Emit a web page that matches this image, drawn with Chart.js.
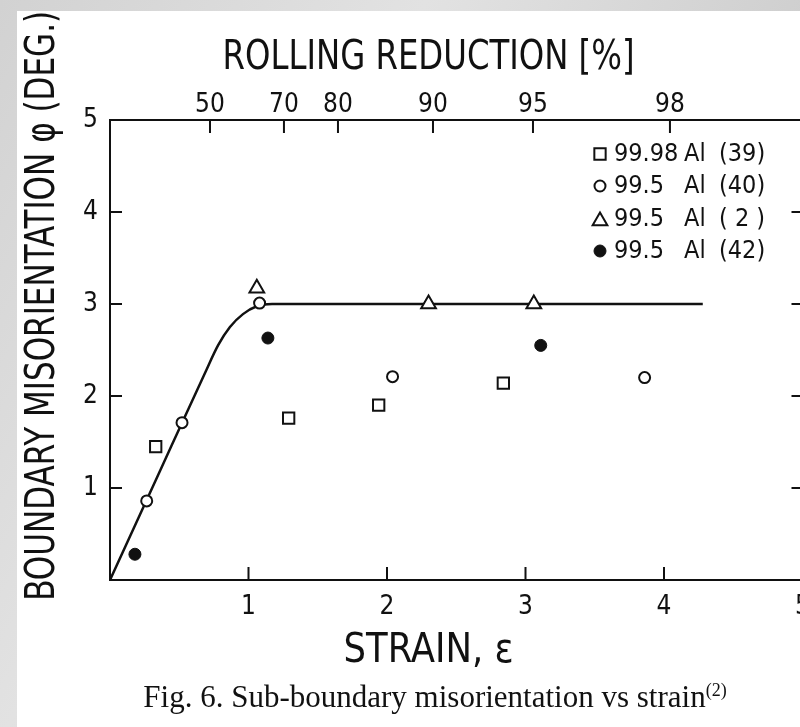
<!DOCTYPE html>
<html>
<head>
<meta charset="utf-8">
<script src="https://cdn.jsdelivr.net/npm/chart.js@4.4.0/dist/chart.umd.min.js"></script>
<style>
  html, body { margin: 0; padding: 0; width: 800px; height: 727px; overflow: hidden; }
  body { position: relative; background: linear-gradient(120deg, #d2d2d2 0%, #e2e2e2 35%, #cdcdcd 70%, #d8d8d8 100%); }
  #panel { position: absolute; left: 17px; top: 11px; right: 0; bottom: 0; background: #fff; }
  #wrap { position: absolute; left: 0; top: 0; width: 830px; height: 680px; }
  #caption { position: absolute; left: 0; top: 679px; width: 870px; text-align: center;
             font-family: 'Liberation Serif', 'Times New Roman', serif; font-size: 31px; color: #111; }
  #caption sup { font-size: 18px; }
</style>
</head>
<body>
<div id="panel"></div>
<div id="wrap"><canvas id="chart" width="830" height="680"></canvas></div>
<div id="caption">Fig. 6. Sub-boundary misorientation vs strain<sup>(2)</sup></div>
<script>
// datos (deformación verdadera vs ángulo en grados)
const squareStrain = [0.33, 1.29, 1.94, 2.84];
const squarePhi = [1.45, 1.76, 1.90, 2.14];
const openCircleStrain = [0.265, 0.52, 1.08, 2.04, 3.86];
const openCirclePhi = [0.86, 1.71, 3.01, 2.21, 2.20];
const triangleStrain = [1.06, 2.30, 3.06];
const trianglePhi = [3.17, 3.0, 3.0];
const dotStrain = [0.18, 1.14, 3.11];
const dotPhi = [0.28, 2.63, 2.55];
const curveStrain = [0, 0.35, 0.686, 0.78, 0.866, 0.96, 1.06, 1.17, 1.37, 4.28];
const curvePhi = [0, 1.15, 2.25, 2.55, 2.75, 2.89, 2.975, 3.0, 3.0, 3.0];

const seriesLabels = ['99.98 Al (39)', '99.5 Al (40)', '99.5 Al ( 2 )', '99.5 Al (42)'];

// eje superior: reducción de laminación y su posición en deformación
const topTickLabels = ['50', '70', '80', '90', '95', '98'];
const topTickStrain = [0.722, 1.256, 1.646, 2.332, 3.054, 4.043];

const xTitle = 'STRAIN, \u03B5';
const topTitle = 'ROLLING REDUCTION [%]';
const yTitle = 'BOUNDARY MISORIENTATION \u03C6 (DEG.)';

const INK = '#111';
const FONT = "'Liberation Sans Narrow', 'DejaVu Sans Condensed', 'Arial Narrow', sans-serif";

const toPoints = (xs, ys) => xs.map((x, i) => ({ x: x, y: ys[i] }));

// marcas de escala hacia dentro en los cuatro lados
const innerTicks = {
  id: 'innerTicks',
  afterDraw(chart) {
    const { ctx, chartArea: a, scales } = chart;
    ctx.save();
    ctx.strokeStyle = INK;
    ctx.lineWidth = 2;
    ctx.beginPath();
    scales.x.ticks.filter(t => t.value > 0 && t.value < 5).forEach(t => {
      const p = scales.x.getPixelForValue(t.value);
      ctx.moveTo(p, a.bottom); ctx.lineTo(p, a.bottom - 13);
    });
    topTickStrain.forEach(v => {
      const p = scales.x2.getPixelForValue(v);
      ctx.moveTo(p, a.top); ctx.lineTo(p, a.top + 13);
    });
    scales.y.ticks.filter(t => t.value > 0 && t.value < 5).forEach(t => {
      const p = scales.y.getPixelForValue(t.value);
      ctx.moveTo(a.left, p); ctx.lineTo(a.left + 12, p);
      ctx.moveTo(a.right, p); ctx.lineTo(a.right - 11, p);
    });
    ctx.stroke();
    ctx.restore();
  }
};

// títulos de ejes (letra estrecha, se comprime con maxWidth)
const axisTitles = {
  id: 'axisTitles',
  afterDraw(chart) {
    const { ctx, scales } = chart;
    ctx.save();
    ctx.fillStyle = INK;
    ctx.font = '40px ' + FONT;
    ctx.textAlign = 'center';
    ctx.textBaseline = 'middle';
    ctx.fillText(topTitle, scales.x2.getPixelForValue(2.3), 59, 412);
    ctx.fillText(xTitle, scales.x.getPixelForValue(2.3), 652, 170);
    ctx.translate(44, scales.y.getPixelForValue(2.98));
    ctx.rotate(-Math.PI / 2);
    ctx.fillText(yTitle, 0, 0, 590);
    ctx.restore();
  }
};

// leyenda dentro del área del gráfico
const insideLegend = {
  id: 'insideLegend',
  afterDraw(chart) {
    const { ctx } = chart;
    const rowsY = [154, 186, 219, 251];
    ctx.save();
    ctx.font = '25px ' + FONT;
    ctx.textBaseline = 'middle';
    chart.data.datasets.slice(0, 4).forEach((ds, i) => {
      ctx.fillStyle = ds.pointBackgroundColor;
      ctx.strokeStyle = ds.pointBorderColor;
      ctx.lineWidth = ds.pointBorderWidth;
      Chart.helpers.drawPoint(ctx, { pointStyle: ds.pointStyle, radius: ds.pointRadius, borderWidth: ds.pointBorderWidth, rotation: 0 }, 600, rowsY[i] + (ds.pointStyle === 'triangle' ? 2 : 0));
      const parts = ds.label.split(' Al ');
      ctx.fillStyle = INK;
      ctx.textAlign = 'left';
      ctx.fillText(parts[0], 614, rowsY[i]);
      ctx.fillText('Al', 684, rowsY[i]);
      ctx.fillText(parts[1], 719, rowsY[i]);
    });
    ctx.restore();
  }
};

const markerBase = { showLine: false, pointBorderColor: INK, pointBorderWidth: 2, order: 0 };

new Chart(document.getElementById('chart'), {
  type: 'scatter',
  data: {
    datasets: [
      { ...markerBase, label: seriesLabels[0], data: toPoints(squareStrain, squarePhi), pointStyle: 'rect', pointRadius: 8, pointBackgroundColor: '#fff' },
      { ...markerBase, label: seriesLabels[1], data: toPoints(openCircleStrain, openCirclePhi), pointStyle: 'circle', pointRadius: 5.5, pointBackgroundColor: '#fff' },
      { ...markerBase, label: seriesLabels[2], data: toPoints(triangleStrain, trianglePhi), pointStyle: 'triangle', pointRadius: 8.5, pointBackgroundColor: '#fff' },
      { ...markerBase, label: seriesLabels[3], data: toPoints(dotStrain, dotPhi), pointStyle: 'circle', pointRadius: 6, pointBorderWidth: 1, pointBackgroundColor: INK },
      { type: 'line', label: 'curve', data: toPoints(curveStrain, curvePhi), showLine: true, borderColor: INK, borderWidth: 2.5,
        pointRadius: 0, cubicInterpolationMode: 'monotone', fill: false, order: 1 }
    ]
  },
  options: {
    responsive: false,
    animation: false,
    events: [],
    layout: { padding: 0 },
    plugins: { legend: { display: false }, tooltip: { enabled: false }, title: { display: false } },
    scales: {
      x: {
        type: 'linear', position: 'bottom', min: 0, max: 5,
        grid: { display: false }, border: { display: true, color: INK, width: 2 },
        ticks: { stepSize: 1, padding: 4, color: INK, font: { family: FONT, size: 26 }, maxRotation: 0, autoSkip: false,
                 callback: v => (v === 0 ? '' : String(v)) },
        afterFit: s => { s.height = 100; }
      },
      x2: {
        type: 'linear', position: 'top', min: 0, max: 5, display: true,
        grid: { display: false }, border: { display: true, color: INK, width: 2 },
        afterBuildTicks: s => { s.ticks = topTickStrain.map(v => ({ value: v })); },
        ticks: { padding: -9, color: INK, font: { family: FONT, size: 26 }, maxRotation: 0, autoSkip: false,
                 callback: (v, i) => topTickLabels[i] },
        afterFit: s => { s.height = 120; }
      },
      y: {
        type: 'linear', position: 'left', min: 0, max: 5,
        grid: { display: false }, border: { display: true, color: INK, width: 2 },
        ticks: { stepSize: 1, padding: 4, color: INK, font: { family: FONT, size: 26 },
                 callback: v => (v === 0 ? '' : String(v)) },
        afterFit: s => { s.width = 110; }
      },
      y2: {
        type: 'linear', position: 'right', min: 0, max: 5, display: true,
        grid: { display: false }, border: { display: true, color: INK, width: 2 },
        ticks: { display: false, stepSize: 1 },
        afterFit: s => { s.width = 27.5; }
      }
    }
  },
  plugins: [innerTicks, axisTitles, insideLegend]
});
</script>
</body>
</html>
